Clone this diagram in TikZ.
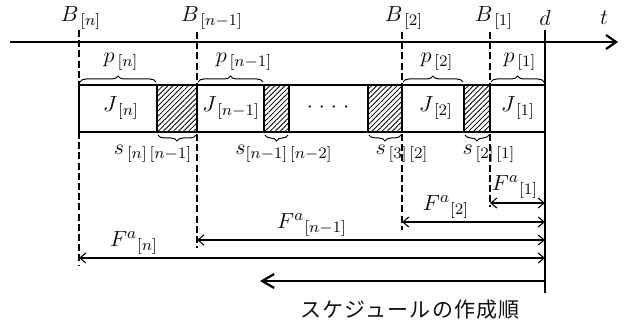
\documentclass[tikz,border=0pt]{standalone}
\usepackage{amsmath,amssymb}
\usepackage{fontspec}
\newfontfamily\jpfont{Noto Sans CJK JP}
\usetikzlibrary{arrows.meta,positioning,calc,patterns.meta,decorations.pathreplacing}
\definecolor{ink}{HTML}{111111}

\begin{document}
\begin{tikzpicture}[
    x=0.5pt, y=-0.5pt,
    taxis/.style={line width=1.1pt, -{Straight Barb[length=5pt,width=7pt]}},
    guide/.style={line width=0.6pt, dash pattern=on 3.5pt off 1.6pt},
    boxline/.style={line width=1.4pt},
    hatchbox/.style={pattern={Lines[angle=45,distance=1.8pt,line width=0.4pt]}},
    fspan/.style={line width=0.55pt,
      {Straight Barb[length=3pt,width=5pt]}-{Straight Barb[length=3pt,width=5pt]}},
    orderline/.style={line width=1.1pt, {Straight Barb[length=6pt,width=7pt]}-},
    bup/.style={decorate, decoration={brace,amplitude=3pt}, line width=0.5pt},
    lbl/.style={inner sep=1pt, text=ink, font=\fontsize{11}{13}\selectfont}
  ]
  \useasboundingbox (0,0) rectangle (626,325);

  % time axis and due date
  \coordinate (t0) at (10,42);
  \coordinate (t1) at (618,42);
  \draw[taxis] (t0) -- (t1);
  \node[lbl] (lt) at (604,18) {$t$};
  \coordinate (dtop) at (545,30);
  \coordinate (dbot) at (545,293);
  \draw[line width=1pt] (dtop) -- (dbot);
  \node[lbl] (ld) at (545,18) {$d$};

  % start points B
  \node[lbl] (lBn)  at (81,18)  {$B_{\,[n]}$};
  \node[lbl] (lBn1) at (212,18) {$B_{\,[n-1]}$};
  \node[lbl] (lB2)  at (404,18) {$B_{\,[2]}$};
  \node[lbl] (lB1)  at (494,18) {$B_{\,[1]}$};

  % hatched set-up times
  \fill[hatchbox] (157,85) rectangle (197,132);
  \fill[hatchbox] (264,85) rectangle (289,132);
  \fill[hatchbox] (368,85) rectangle (402,132);
  \fill[hatchbox] (464,85) rectangle (490,132);

  % schedule bar
  \draw[boxline] (79,85) rectangle (545,132);
  \foreach \x in {157,197,264,289,368,402,464,490}
    \draw[boxline] (\x,85) -- (\x,132);

  \node[lbl] (Jn)  at (121,108) {$J_{\,[n]}$};
  \node[lbl] (Jn1) at (231,108) {$J_{\,[n-1]}$};
  \node[lbl] (dots) at (328,108) {$\cdot$\hspace{3pt}$\cdot$\hspace{3pt}$\cdot$\hspace{3pt}$\cdot$};
  \node[lbl] (J2)  at (436,108) {$J_{\,[2]}$};
  \node[lbl] (J1)  at (518,108) {$J_{\,[1]}$};

  % processing times
  \draw[bup] (80,82) -- (156,82);
  \draw[bup] (198,82) -- (263,82);
  \draw[bup] (403,82) -- (463,82);
  \draw[bup] (491,82) -- (544,82);
  \node[lbl] (pn)  at (121,62) {$p_{\,[n]}$};
  \node[lbl] (pn1) at (244,62) {$p_{\,[n-1]}$};
  \node[lbl] (p2)  at (437,62) {$p_{\,[2]}$};
  \node[lbl] (p1)  at (520,62) {$p_{\,[1]}$};

  % set-up times
  \draw[bup] (196,135) -- (158,135);
  \draw[bup] (288,135) -- (265,135);
  \draw[bup] (401,135) -- (369,135);
  \draw[bup] (489,135) -- (465,135);
  \node[lbl] (sn)  at (153,154) {$s_{\,[n]\,[n-1]}$};
  \node[lbl] (sn1) at (284,154) {$s_{[n-1]\,[n-2]}$};
  \node[lbl] (s3)  at (402,154) {$s_{\,[3]\,[2]}$};
  \node[lbl] (s2)  at (489,154) {$s_{\,[2]\,[1]}$};

  % guide lines
  \draw[guide] (79,30) -- (79,266);
  \draw[guide] (197,32) -- (197,248);
  \draw[guide] (402,32) -- (402,230);
  \draw[guide] (490,32) -- (490,207);

  % completion times
  \coordinate (Fa1) at (490,203);  \coordinate (Fb1) at (545,203);
  \coordinate (Fa2) at (402,222);  \coordinate (Fb2) at (545,222);
  \coordinate (Fan1) at (197,240); \coordinate (Fbn1) at (545,240);
  \coordinate (Fan) at (79,258);   \coordinate (Fbn) at (545,258);
  \draw[fspan] (Fa1) -- (Fb1);
  \draw[fspan] (Fa2) -- (Fb2);
  \draw[fspan] (Fan1) -- (Fbn1);
  \draw[fspan] (Fan) -- (Fbn);
  \node[lbl] (lF1)  at (515,187) {${F^{a}}_{[1]}$};
  \node[lbl] (lF2)  at (446,207) {${F^{a}}_{[2]}$};
  \node[lbl] (lFn1) at (312,225) {${F^{a}}_{[n-1]}$};
  \node[lbl] (lFn)  at (134,243) {${F^{a}}_{[n]}$};

  % order of construction
  \coordinate (oA) at (545,281);
  \coordinate (oB) at (260,281);
  \draw[orderline] (oB) -- (oA);
  \node[lbl] (order) at (410,310)
    {\jpfont\fontsize{10.5}{12}\selectfont\addfontfeature{LetterSpace=6}スケジュールの作成順};
\end{tikzpicture}
\end{document}
